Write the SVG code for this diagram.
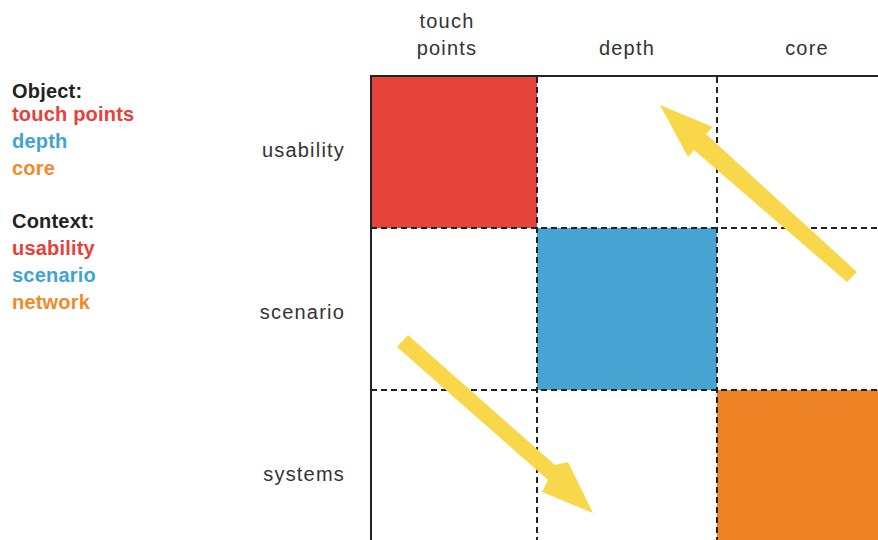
<svg xmlns="http://www.w3.org/2000/svg" width="878" height="540" viewBox="0 0 878 540">
<style>
.lbl{font-family:"Liberation Sans",Arial,sans-serif;font-size:20px;letter-spacing:1.2px;fill:#333}
.leg{font-family:"Liberation Sans",Arial,sans-serif;font-size:20px;font-weight:bold;letter-spacing:0.2px}
.dash{stroke:#222;stroke-width:2;stroke-dasharray:6,4;fill:none}
.arrow{fill:#f8d84a}
</style>
<rect width="878" height="540" fill="#fff"/>
<g id="legend">
<text class="leg" x="12" y="98" fill="#222">Object:</text>
<text class="leg" x="12" y="121" fill="#e8403a">touch points</text>
<text class="leg" x="12" y="148" fill="#3fa3d6">depth</text>
<text class="leg" x="12" y="175" fill="#f08a2a">core</text>
<text class="leg" x="12" y="228" fill="#222">Context:</text>
<text class="leg" x="12" y="255" fill="#e8403a">usability</text>
<text class="leg" x="12" y="282" fill="#3fa3d6">scenario</text>
<text class="leg" x="12" y="309" fill="#f08a2a">network</text>
</g>
<g id="headers">
<text class="lbl" x="447" y="28" text-anchor="middle">touch</text>
<text class="lbl" x="447" y="55" text-anchor="middle">points</text>
<text class="lbl" x="627" y="55" text-anchor="middle">depth</text>
<text class="lbl" x="807" y="55" text-anchor="middle">core</text>
<text class="lbl" x="345" y="157" text-anchor="end">usability</text>
<text class="lbl" x="345" y="319" text-anchor="end">scenario</text>
<text class="lbl" x="345" y="481" text-anchor="end">systems</text>
</g>
<g id="cells">
<rect id="cell-red" x="371" y="77" width="166" height="151" fill="#e5443a"/>
<rect id="cell-blue" x="537" y="228" width="180" height="162" fill="#46a3d2"/>
<rect id="cell-orange" x="717" y="390" width="161" height="150" fill="#ee8326"/>
</g>
<g id="grid">
<line class="dash" x1="537" y1="77" x2="537" y2="540"/>
<line class="dash" x1="717" y1="77" x2="717" y2="540"/>
<line class="dash" x1="371" y1="228" x2="878" y2="228"/>
<line class="dash" x1="371" y1="390" x2="878" y2="390"/>
<line x1="370" y1="76" x2="878" y2="76" stroke="#222" stroke-width="2"/>
<line x1="371" y1="76" x2="371" y2="540" stroke="#222" stroke-width="2"/>
</g>
<g id="connectors">
<path class="arrow" d="M857,272 L847,282 L694,150 L688,157 L660,105 L713,127 L706,134 Z"/>
<path class="arrow" d="M397,347 L408,335 L555,465 L568,462 L593,513 L542,492 L548,480 Z"/>
</g>
</svg>
